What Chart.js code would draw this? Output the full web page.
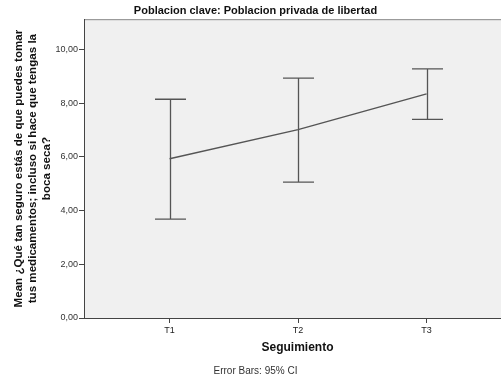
<!DOCTYPE html>
<html>
<head>
<meta charset="utf-8">
<script src="https://cdn.jsdelivr.net/npm/chart.js@4.4.1/dist/chart.umd.min.js"></script>
<style>
  html, body { margin: 0; padding: 0; background: #fff; overflow: hidden; }
  #wrap { width: 516px; height: 379px; }
</style>
</head>
<body>
<div id="wrap"><canvas id="chart" width="516" height="379"></canvas></div>
<script>
// values
const categories = ['T1', 'T2', 'T3'];
const means = [5.93, 7.01, 8.34];
const lower = [3.68, 5.06, 7.39];
const upper = [8.14, 8.93, 9.27];
const yTicks = [0, 2, 4, 6, 8, 10];

const fontFamily = "'Liberation Sans', Arial, sans-serif";
const axisColor = '#444';
const markColor = '#555';

// plot background and frame
const plotFrame = {
  id: 'plotFrame',
  beforeDraw(chart) {
    const a = chart.chartArea;
    const ctx = chart.ctx;
    ctx.save();
    ctx.fillStyle = '#f0f0f0';
    ctx.fillRect(a.left, a.top, a.right - a.left, a.bottom - a.top);
    ctx.strokeStyle = '#888';
    ctx.lineWidth = 1;
    ctx.beginPath();
    ctx.moveTo(a.left, a.top + 0.5);
    ctx.lineTo(a.right, a.top + 0.5);
    ctx.lineTo(a.right, a.bottom);
    ctx.stroke();
    ctx.restore();
  }
};

// 95% CI error bars
const errorBars = {
  id: 'errorBars',
  afterDatasetsDraw(chart) {
    const xs = chart.scales.x, ys = chart.scales.y;
    const ctx = chart.ctx;
    const cap = 15.5;
    ctx.save();
    ctx.strokeStyle = markColor;
    ctx.lineWidth = 1.3;
    for (let k = 0; k < categories.length; k++) {
      const px = Math.round(xs.getPixelForValue(k + 1)) + 0.5;
      const yl = ys.getPixelForValue(lower[k]);
      const yu = ys.getPixelForValue(upper[k]);
      ctx.beginPath();
      ctx.moveTo(px, yl);
      ctx.lineTo(px, yu);
      ctx.moveTo(px - cap, yu);
      ctx.lineTo(px + cap, yu);
      ctx.moveTo(px - cap, yl);
      ctx.lineTo(px + cap, yl);
      ctx.stroke();
    }
    ctx.restore();
  }
};

var ctx = document.getElementById('chart').getContext('2d');
var myChart = new Chart(ctx, {
  type: 'line',
  data: {
    datasets: [{
      data: means.map((m, k) => ({ x: k + 1, y: m })),
      borderColor: markColor,
      borderWidth: 1.5,
      pointRadius: 0,
      tension: 0,
      fill: false
    }]
  },
  options: {
    responsive: false,
    animation: false,
    layout: { padding: { left: 0, right: 5, top: 0, bottom: 0 } },
    plugins: {
      legend: { display: false },
      tooltip: { enabled: false },
      title: {
        display: true,
        text: 'Poblacion clave: Poblacion privada de libertad',
        color: '#111',
        font: { family: fontFamily, size: 11, weight: 'bold', lineHeight: 1.2 },
        padding: { top: 4, bottom: 2 }
      },
      subtitle: {
        display: true,
        position: 'bottom',
        text: 'Error Bars: 95% CI',
        color: '#333',
        font: { family: fontFamily, size: 10, lineHeight: 1.2 },
        padding: { top: 0, bottom: 2 }
      }
    },
    scales: {
      x: {
        type: 'linear',
        min: 0.334,
        max: 3.657,
        afterFit(scale) { scale.height = 47; },
        afterBuildTicks(scale) {
          scale.ticks = categories.map((c, k) => ({ value: k + 1 }));
        },
        ticks: {
          color: '#222',
          font: { family: fontFamily, size: 9 },
          padding: 2,
          maxRotation: 0,
          callback: (v) => categories[v - 1]
        },
        grid: { drawOnChartArea: false, drawTicks: true, tickLength: 5, color: axisColor },
        border: { display: true, color: axisColor, width: 1 },
        title: {
          display: true,
          text: 'Seguimiento',
          color: '#111',
          font: { family: fontFamily, size: 12, weight: 'bold', lineHeight: 1.2 },
          padding: { top: 0, bottom: 10 }
        }
      },
      y: {
        min: 0,
        max: 11.12,
        afterFit(scale) { scale.width = 84; },
        afterBuildTicks(scale) {
          scale.ticks = yTicks.map(v => ({ value: v }));
        },
        ticks: {
          color: '#333',
          font: { family: fontFamily, size: 9 },
          padding: 1,
          callback: (v) => v.toFixed(2).replace('.', ',')
        },
        grid: { drawOnChartArea: false, drawTicks: true, tickLength: 5, color: axisColor },
        border: { display: true, color: axisColor, width: 1 },
        title: {
          display: true,
          text: ['Mean ¿Qué tan seguro estás de que puedes tomar',
                 'tus medicamentos; incluso si hace que tengas la',
                 'boca seca?'],
          color: '#111',
          font: { family: fontFamily, size: 11.6, weight: 'bold', lineHeight: 1.2 },
          padding: { top: 12, bottom: 0 }
        }
      }
    }
  },
  plugins: [plotFrame, errorBars]
});
</script>
</body>
</html>
